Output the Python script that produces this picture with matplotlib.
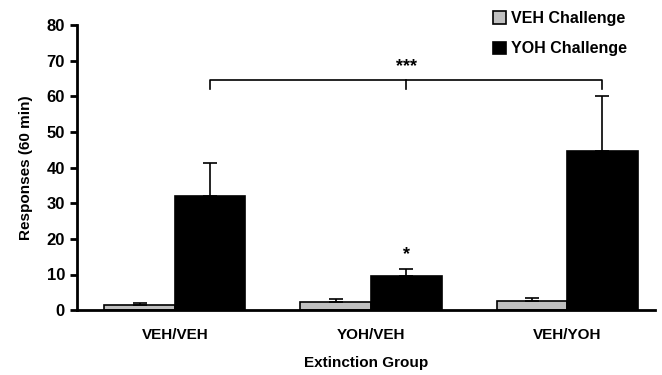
import numpy as np
import matplotlib.pyplot as plt

plt.rcParams['font.family'] = ['Liberation Sans', 'DejaVu Sans']
plt.rcParams['font.weight'] = 'bold'
plt.rcParams['axes.labelweight'] = 'bold'

groups = ['VEH/VEH', 'YOH/VEH', 'VEH/YOH']
veh_mean = [1.5, 2.2, 2.5]
veh_err = [0.5, 0.8, 1.0]
yoh_mean = [32.0, 9.7, 44.8]
yoh_err = [9.3, 1.8, 15.2]

x = np.arange(len(groups))
w = 0.36

fig = plt.figure(figsize=(6.62, 3.75), dpi=100)
ax = fig.add_axes([0.116, 0.173, 0.874, 0.76])

ax.bar(x - w / 2, veh_mean, w, color='#c0c0c0', edgecolor='black', linewidth=1.2,
       label='VEH Challenge')
ax.bar(x + w / 2, yoh_mean, w, color='black', edgecolor='black', linewidth=1.2,
       label='YOH Challenge')
ax.errorbar(x - w / 2, veh_mean, yerr=[np.zeros(3), veh_err], fmt='none', ecolor='black',
            elinewidth=1.2, capsize=5, capthick=1.2)
ax.errorbar(x + w / 2, yoh_mean, yerr=[np.zeros(3), yoh_err], fmt='none', ecolor='black',
            elinewidth=1.2, capsize=5, capthick=1.2)

# significance bracket
bx = x + w / 2
ax.plot([bx[0], bx[0], bx[2], bx[2]], [62.0, 64.7, 64.7, 62.0], color='black', lw=1.2)
ax.plot([bx[1], bx[1]], [64.7, 62.0], color='black', lw=1.2)
ax.text(bx[1], 66, '***', ha='center', va='bottom', fontsize=13)
ax.text(bx[1], 13.2, '*', ha='center', va='bottom', fontsize=13)

ax.set_xlim(-0.5, 2.45)
ax.set_ylim(0, 80)
ax.set_yticks(range(0, 81, 10))
ax.set_xticks(x)
ax.set_xticklabels(groups, fontsize=11)
ax.tick_params(axis='x', length=0, pad=13)
ax.tick_params(axis='y', labelsize=12, width=2, length=5)
for s in ['top', 'right']:
    ax.spines[s].set_visible(False)
ax.spines['left'].set_linewidth(2)
ax.spines['bottom'].set_linewidth(2)

ax.set_ylabel('Responses (60 min)', fontsize=11, labelpad=10)
ax.set_xlabel('Extinction Group', fontsize=11, labelpad=10)

ax.legend(loc='upper left', bbox_to_anchor=(0.695, 1.10), frameon=False, fontsize=11.5,
          handlelength=0.8, handleheight=0.8, handletextpad=0.3, labelspacing=0.95)

fig.savefig('out.png', dpi=100)
